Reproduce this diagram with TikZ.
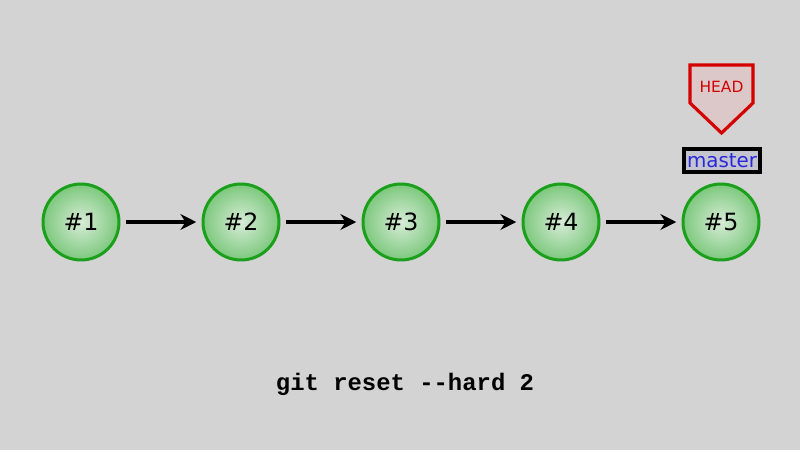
\documentclass[tikz,border=0pt]{standalone}
\usepackage{fontspec}
\setmainfont{DejaVu Sans}
\newfontfamily\codefont{Liberation Mono}
\usetikzlibrary{arrows.meta}
\definecolor{bg}{RGB}{211,211,211}
\definecolor{cgreen}{RGB}{26,160,26}
\definecolor{cinner}{RGB}{215,236,215}
\definecolor{couter}{RGB}{125,200,125}
\definecolor{hred}{RGB}{212,0,0}
\definecolor{hfill}{RGB}{220,200,200}
\definecolor{mblue}{RGB}{40,40,220}
\definecolor{mfill}{RGB}{196,196,206}
\tikzset{
  commit/.style={circle, draw=cgreen, line width=1.7pt, minimum size=1.52cm, inner sep=0pt,
    inner color=cinner, outer color=couter, font=\fontsize{13.5}{15}\selectfont},
  link/.style={-{Stealth[length=9pt,width=9pt]}, line width=2pt, shorten <=3pt, shorten >=3pt},
}
\begin{document}
\begin{tikzpicture}[x=0.02cm,y=-0.02cm]
\fill[bg] (0,0) rectangle (800,450);
\useasboundingbox (0,0) rectangle (800,450);
\foreach \i/\x in {1/81,2/241,3/401,4/561,5/721}{
  \node[commit] (c\i) at (\x,222) {\#\i};
}
\foreach \a/\b in {1/2,2/3,3/4,4/5}{
  \draw[link] (c\a) -- (c\b);
}
\draw[draw=hred, fill=hfill, line width=1.8pt] (690,65) -- (753,65) -- (753,103) -- (721.5,133) -- (690,103) -- cycle;
\node[text=hred, font=\fontsize{8.8}{10}\selectfont] (head) at (721.5,87) {HEAD};
\node[draw=black, fill=mfill, line width=2.2pt, minimum width=1.52cm, minimum height=0.46cm, inner sep=0pt,
  text=mblue, font=\fontsize{11.3}{13}\selectfont] (master) at (722,160.5) {master};
\node[font=\codefont\bfseries\fontsize{13.6}{16}\selectfont] (cmd) at (405,384) {git reset -{}-hard 2};
\end{tikzpicture}
\end{document}
